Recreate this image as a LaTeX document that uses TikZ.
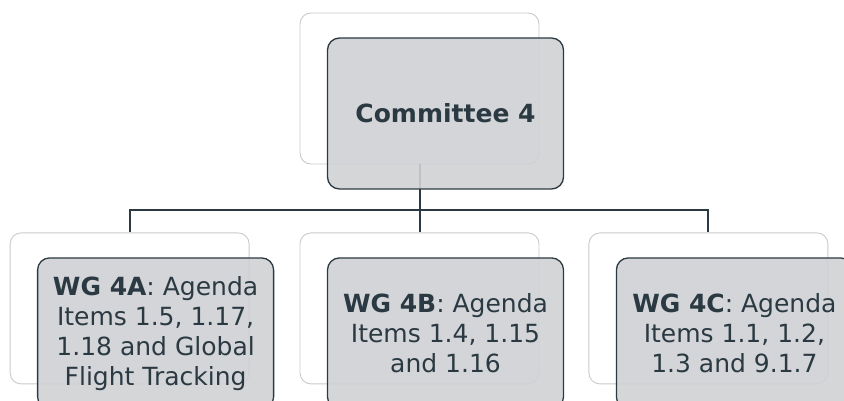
\documentclass[tikz,border=0pt]{standalone}
\usepackage{fontspec}
\setmainfont{DejaVu Sans}
\usetikzlibrary{positioning, calc}
\definecolor{slate}{HTML}{2B3A42}
\definecolor{boxgray}{HTML}{CFD1D4}
\definecolor{ghost}{HTML}{CACACA}
\tikzset{
  backbox/.style={
	draw=ghost, fill=white, line width=0.9pt, % the pale frame behind each box
	rounded corners=11pt,
	minimum width=239pt, minimum height=151pt,
  },
  frontbox/.style={
	draw=slate, fill=boxgray, fill opacity=0.9, text opacity=1, % lets the pale frame show through
	line width=1.3pt, rounded corners=12pt,
	minimum width=236pt, minimum height=151pt,
	text=slate, align=center, font=\fontsize{25}{30}\selectfont,
  },
  tree/.style={draw=slate, line width=2pt},
}

\begin{document}
\begin{tikzpicture}[x=1pt, y=-1pt]
		\useasboundingbox (0,0) rectangle (844,400);

		% Marcos de fondo
		\node [backbox] (c4back) at (419.5,88.5) {};
		\node [backbox, below=68pt of c4back] (wgbback) {};
		\node [backbox, left=50pt of wgbback] (wgaback) {};
		\node [backbox, right=49pt of wgbback] (wgcback) {};

		% Conectores
		\coordinate (bus) at ($(c4back.south)+(0,46)$);
		\draw [tree] (c4back.south) -- (wgbback.north);
		\draw [tree] (bus) -| (wgaback.north);
		\draw [tree] (bus) -| (wgcback.north);

		% Cajas grises
		\node [frontbox, xshift=26pt, yshift=-25pt] (c4) at (c4back) {\textbf{Committee 4}};
		\node [frontbox, xshift=26pt, yshift=-25pt] (wga) at (wgaback) {\textbf{WG 4A}: Agenda\\Items 1.5, 1.17,\\1.18 and Global\\Flight Tracking};
		\node [frontbox, xshift=26pt, yshift=-25pt] (wgb) at (wgbback) {\textbf{WG 4B}: Agenda\\Items 1.4, 1.15\\and 1.16};
		\node [frontbox, xshift=26pt, yshift=-25pt] (wgc) at (wgcback) {\textbf{WG 4C}: Agenda\\Items 1.1, 1.2,\\1.3 and 9.1.7};
\end{tikzpicture}
\end{document}
